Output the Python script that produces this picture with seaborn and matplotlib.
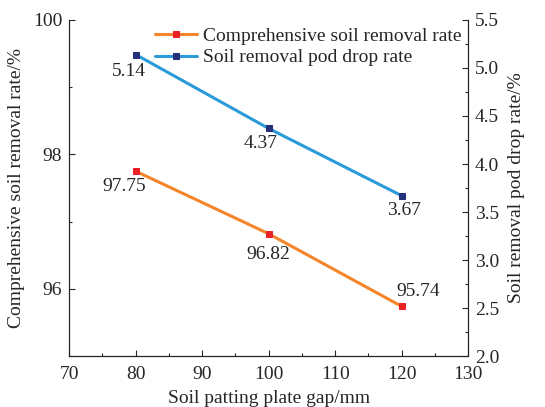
import matplotlib
matplotlib.use('Agg')
import matplotlib.pyplot as plt
import seaborn as sns
import pandas as pd
from matplotlib.ticker import MultipleLocator

# Data
gap = [80, 100, 120]
removal_rate = [97.75, 96.82, 95.74]
pod_drop_rate = [5.14, 4.37, 3.67]

# label offsets in points (dx, dy) for each value annotation
removal_offsets = [(-8, -11), (0, -15), (12, 11)]
drop_offsets = [(-5, -12), (-6, -11), (2, -11)]

df = pd.DataFrame({'gap': gap, 'removal': removal_rate, 'drop': pod_drop_rate})

sns.set_style('ticks')
plt.rcParams['font.family'] = ['Liberation Serif', 'DejaVu Serif']
plt.rcParams['mathtext.fontset'] = 'stix'

fig = plt.figure(figsize=(5.45, 4.07), dpi=100)
ax = fig.add_axes([0.127, 0.125, 0.732, 0.826])
ax2 = ax.twinx()

orange = '#f5852a'
red = '#ec2027'
blue = '#2b9ad8'
navy = '#25307a'

sns.lineplot(data=df, x='gap', y='removal', ax=ax, color=orange, lw=2.2,
             marker='s', markersize=5, markerfacecolor=red, markeredgecolor=red,
             label='Comprehensive soil removal rate', legend=False)
sns.lineplot(data=df, x='gap', y='drop', ax=ax2, color=blue, lw=2.2,
             marker='s', markersize=5, markerfacecolor=navy, markeredgecolor=navy,
             label='Soil removal pod drop rate', legend=False)

for xv, yv, off in zip(gap, removal_rate, removal_offsets):
    ax.annotate(f'{yv:.2f}', (xv, yv), xytext=off, textcoords='offset points',
                ha='center', va='center', fontsize=14)
for xv, yv, off in zip(gap, pod_drop_rate, drop_offsets):
    ax2.annotate(f'{yv:.2f}', (xv, yv), xytext=off, textcoords='offset points',
                 ha='center', va='center', fontsize=14)

ax.set_xlim(70, 130)
ax.set_ylim(95, 100)
ax2.set_ylim(2.0, 5.5)
ax.xaxis.set_major_locator(MultipleLocator(10))
ax.xaxis.set_minor_locator(MultipleLocator(5))
ax.yaxis.set_major_locator(MultipleLocator(2))
ax.yaxis.set_minor_locator(MultipleLocator(1))
ax2.yaxis.set_major_locator(MultipleLocator(0.5))
ax2.yaxis.set_minor_locator(MultipleLocator(0.25))
ax.set_yticks([96, 98, 100])
ax2.yaxis.set_major_formatter(matplotlib.ticker.FormatStrFormatter('%.1f'))

for a in (ax, ax2):
    a.tick_params(which='major', direction='in', length=4.5, width=0.8, labelsize=14, pad=5)
    a.tick_params(which='minor', direction='in', length=2.5, width=0.8)
    for s in a.spines.values():
        s.set_linewidth(0.8)
        s.set_color('#222222')
ax.tick_params(axis='x', which='major', pad=7)
ax.spines['top'].set_visible(False)
ax2.spines['top'].set_visible(False)
ax2.spines['right'].set_visible(True)

ax.set_xlabel('Soil patting plate gap/mm', fontsize=14, labelpad=5)
ax.set_ylabel('Comprehensive soil removal rate/%', fontsize=14, labelpad=6)
ax2.set_ylabel('Soil removal pod drop rate/%', fontsize=14, labelpad=6)

h1, l1 = ax.get_legend_handles_labels()
h2, l2 = ax2.get_legend_handles_labels()
ax.legend(h1 + h2, l1 + l2, loc='upper left', bbox_to_anchor=(0.17, 1.03),
          frameon=False, fontsize=14, handlelength=2.2, handletextpad=0.3,
          labelspacing=0.2)

fig.savefig('out.png', dpi=100)
